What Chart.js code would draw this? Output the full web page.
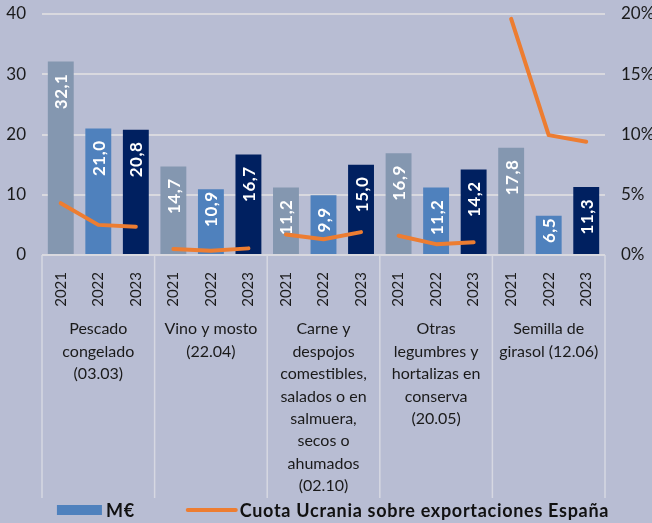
<!DOCTYPE html>
<html>
<head>
<meta charset="utf-8">
<script src="https://cdn.jsdelivr.net/npm/chart.js@4.4.0/dist/chart.umd.min.js"></script>
<style>
  html, body { margin: 0; padding: 0; background: #B8BDD3; }
  #wrap { width: 652px; height: 523px; }
</style>
</head>
<body>
<div id="wrap"><canvas id="c" width="652" height="523"></canvas></div>
<script>
// ---- DATA ----
const years = ["2021", "2022", "2023"];
const groupLabels = [
  ["Pescado", "congelado", "(03.03)"],
  ["Vino y mosto", "(22.04)"],
  ["Carne y", "despojos", "comestibles,", "salados o en", "salmuera,", "secos o", "ahumados", "(02.10)"],
  ["Otras", "legumbres y", "hortalizas en", "conserva", "(20.05)"],
  ["Semilla de", "girasol (12.06)"]
];
const valuesMEUR = [32.1, 21.0, 20.8, 14.7, 10.9, 16.7, 11.2, 9.9, 15.0, 16.9, 11.2, 14.2, 17.8, 6.5, 11.3];
const shareUkraine = [4.3, 2.5, 2.35, 0.5, 0.36, 0.55, 1.7, 1.3, 1.9, 1.6, 0.9, 1.05, 19.6, 9.95, 9.4];
const leftTicks = [0, 10, 20, 30, 40];
const rightTicks = [0, 5, 10, 15, 20];
const seriesBarName = "M€";
const seriesLineName = "Cuota Ucrania sobre exportaciones España";

// ---- build ----
const xLabels = [];
groupLabels.forEach(() => years.forEach(y => xLabels.push(y)));
const yearColors = ["#8497B0", "#4F81BD", "#002060"];
const barColors = xLabels.map((_, i) => yearColors[i % 3]);
const ORANGE = "#ED7D31";

Chart.defaults.font.family = "Lato, 'Open Sans', sans-serif";
Chart.defaults.color = "#1a1a1a";

const dataLabelPlugin = {
  id: "barLabels",
  afterDatasetsDraw(chart) {
    const meta = chart.getDatasetMeta(1);
    const ctx = chart.ctx;
    ctx.save();
    ctx.fillStyle = "#ffffff";
    ctx.font = "bold 17px Lato, sans-serif";
    ctx.letterSpacing = "0.5px";
    ctx.textAlign = "right";
    ctx.textBaseline = "middle";
    meta.data.forEach((el, i) => {
      const txt = valuesMEUR[i].toFixed(1).replace(".", ",");
      const tw = ctx.measureText(txt).width;
      const h = el.base - el.y;
      const off = (h < tw + 30) ? 2 : 12;
      ctx.save();
      ctx.translate(el.x + 1, el.y + off);
      ctx.rotate(-Math.PI / 2);
      ctx.fillText(txt, 0, 0);
      ctx.restore();
    });
    ctx.restore();
  }
};

const separatorPlugin = {
  id: "separators",
  beforeDatasetsDraw(chart) {
    const ctx = chart.ctx;
    const xs = chart.scales.x;
    const bottom = chart.chartArea.bottom;
    ctx.save();
    ctx.strokeStyle = "#D6D8E2";
    ctx.lineWidth = 1.5;
    for (let i = 0; i <= groupLabels.length; i++) {
      const x = xs.left + i * (xs.right - xs.left) / groupLabels.length;
      ctx.beginPath();
      ctx.moveTo(x, bottom);
      ctx.lineTo(x, 498);
      ctx.stroke();
    }
    ctx.restore();
  }
};

const legendPlugin = {
  id: "customLegend",
  afterDraw(chart) {
    const ctx = chart.ctx;
    ctx.save();
    ctx.font = "bold 18px Lato, sans-serif";
    ctx.letterSpacing = "0.7px";
    ctx.textBaseline = "middle";
    ctx.textAlign = "left";
    const w1 = ctx.measureText(seriesBarName).width;
    const w2 = ctx.measureText(seriesLineName).width;
    const total = 45 + 4 + w1 + 53 + 48 + 4 + w2;
    let x = 333 - total / 2;
    const y = 510;
    ctx.fillStyle = "#4F81BD";
    ctx.fillRect(x, y - 5, 45, 10);
    x += 49;
    ctx.fillStyle = "#111111";
    ctx.fillText(seriesBarName, x, y + 1);
    x += w1 + 53;
    ctx.strokeStyle = ORANGE;
    ctx.lineWidth = 4;
    ctx.lineCap = "round";
    ctx.beginPath();
    ctx.moveTo(x, y);
    ctx.lineTo(x + 48, y);
    ctx.stroke();
    x += 52;
    ctx.fillText(seriesLineName, x, y + 1);
    ctx.restore();
  }
};

new Chart(document.getElementById("c"), {
  type: "bar",
  data: {
    labels: xLabels,
    datasets: [
      {
        type: "line",
        label: seriesLineName,
        data: shareUkraine,
        yAxisID: "y2",
        xAxisID: "x",
        borderColor: ORANGE,
        borderWidth: 4,
        borderCapStyle: "round",
        borderJoinStyle: "round",
        pointRadius: 0,
        tension: 0,
        order: 0,
        segment: {
          borderColor: ctx => (ctx.p0DataIndex % 3 === 2) ? "rgba(0,0,0,0)" : ORANGE
        }
      },
      {
        type: "bar",
        label: seriesBarName,
        data: valuesMEUR,
        yAxisID: "y",
        xAxisID: "x",
        backgroundColor: barColors,
        barPercentage: 0.69,
        categoryPercentage: 1.0,
        order: 1
      }
    ]
  },
  plugins: [separatorPlugin, dataLabelPlugin, legendPlugin],
  options: {
    responsive: false,
    animation: false,
    layout: { padding: { top: 14, bottom: 28, left: 0, right: 0 } },
    plugins: {
      legend: { display: false },
      tooltip: { enabled: false }
    },
    scales: {
      x: {
        type: "category",
        position: "bottom",
        offset: true,
        grid: { display: false, drawTicks: false, tickLength: 0 },
        border: { display: false },
        ticks: {
          minRotation: 90, maxRotation: 90, autoSkip: false,
          padding: 17,
          font: { size: 15 }, color: "#1a1a1a"
        },
        afterFit(s) { s.height = 56; }
      },
      x2: {
        type: "category",
        position: "bottom",
        labels: groupLabels,
        offset: true,
        grid: { display: false, drawTicks: false, tickLength: 0 },
        border: { display: false },
        ticks: {
          autoSkip: false, maxRotation: 0, minRotation: 0,
          padding: 7,
          font: { size: 16, lineHeight: 1.4 }, color: "#1a1a1a"
        },
        afterFit(s) { s.height = 184; }
      },
      y: {
        position: "left",
        min: 0, max: 40,
        afterBuildTicks(s) { s.ticks = leftTicks.map(v => ({ value: v })); },
        grid: { color: "#D9D9DF", lineWidth: 2, drawTicks: false },
        border: { display: false },
        ticks: { padding: 16, font: { size: 17 }, color: "#1a1a1a" },
        afterFit(s) { s.width = 42; s.paddingTop = 0; s.paddingBottom = 0; }
      },
      y2: {
        position: "right",
        min: 0, max: 20,
        afterBuildTicks(s) { s.ticks = rightTicks.map(v => ({ value: v })); },
        grid: { display: false, drawTicks: false },
        border: { display: false },
        ticks: { padding: 16, font: { size: 17 }, color: "#1a1a1a", callback: v => v + "%" },
        afterFit(s) { s.width = 47; s.paddingTop = 0; s.paddingBottom = 0; }
      }
    }
  }
});
</script>
</body>
</html>
